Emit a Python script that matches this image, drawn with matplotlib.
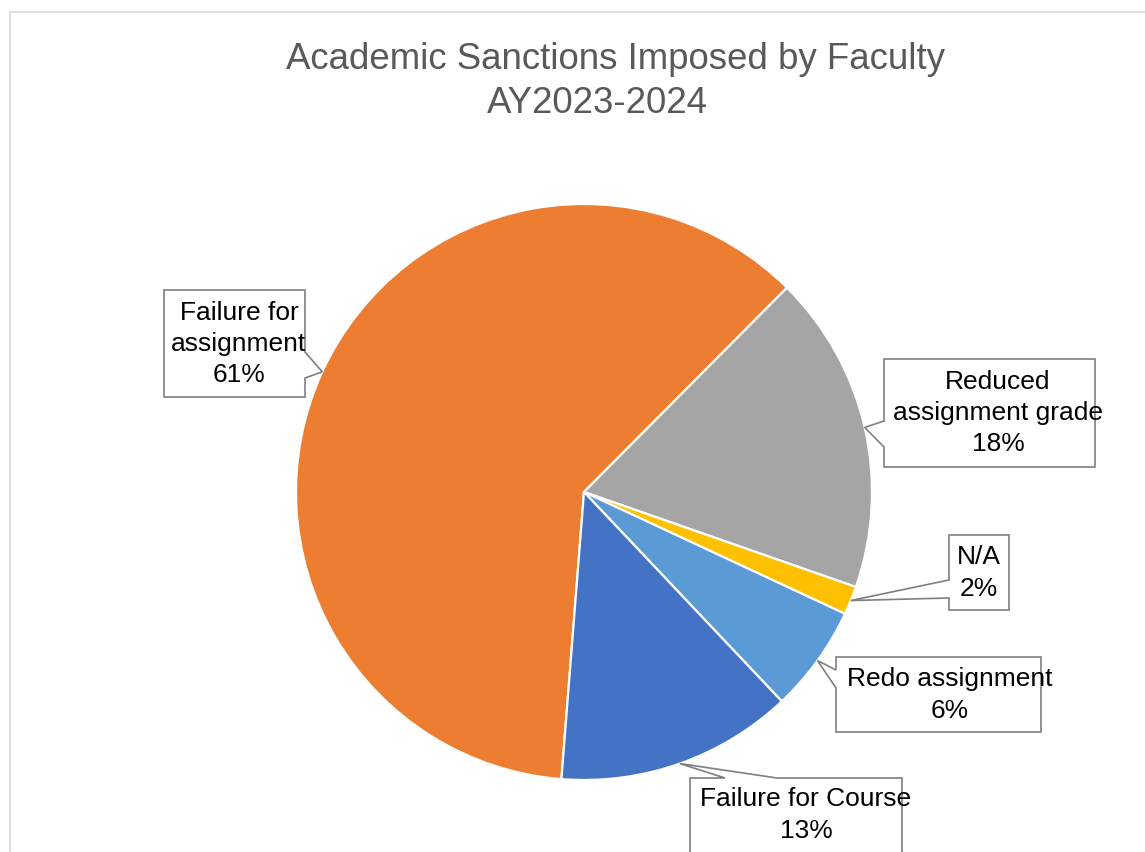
import numpy as np
import matplotlib
matplotlib.use("Agg")
import matplotlib.pyplot as plt
from matplotlib.patches import Polygon, Rectangle

# data (share of sanctions, percent)
labels = ["Failure for\nassignment", "Reduced\nassignment grade", "N/A",
          "Redo assignment", "Failure for Course"]
shares = [61.2, 17.9, 1.6, 6.0, 13.3]
colours = ["#ED7D31", "#A5A5A5", "#FFC000", "#5B9BD5", "#4472C4"]

W, H = 1145, 852

def fy(y):
    # pixel row (top origin) -> data y
    return H - y

# callout layout in pixel coords: box (x0, y0, x1, y1), pointer side, base span, text centre
callouts = [
    ((164, 290, 305, 397), "right", (352, 378), (239, 344)),
    ((884, 359, 1095, 467), "left", (421, 447), (998, 413)),
    ((949, 535, 1009, 610), "left", (580, 598), (979, 573)),
    ((836, 657, 1041, 732), "left", (670, 688), (950, 695)),
    ((690, 778, 902, 880), "top", (725, 777), (806, 815)),
]

plt.rcParams['font.family'] = ['Liberation Sans', 'DejaVu Sans']

fig = plt.figure(figsize=(W / 100, H / 100), dpi=100)
ax = fig.add_axes([0, 0, 1, 1])

centre = (584, fy(492))
radius = 288

wedges, _ = ax.pie(shares, colors=colours, startangle=-94.5, counterclock=False,
                   center=centre, radius=radius,
                   wedgeprops=dict(edgecolor="white", linewidth=1.6))

ax.set_xlim(0, W)
ax.set_ylim(0, H)
ax.set_aspect("equal")
ax.axis("off")

# chart border
ax.add_patch(Rectangle((10, fy(900)), 1200, 900 - 12, fill=False,
                       edgecolor="#D9D9D9", linewidth=1.2, zorder=0))

total = sum(shares)
for wedge, lab, val, (box, side, base, tpos) in zip(wedges, labels, shares, callouts):
    mid = np.deg2rad((wedge.theta1 + wedge.theta2) / 2)
    tip = (centre[0] + radius * np.cos(mid), centre[1] + radius * np.sin(mid))
    x0, y0, x1, y1 = box
    b1, b2 = base
    if side == "right":
        pts = [(x0, y0), (x1, y0), (x1, b1), None, (x1, b2), (x1, y1), (x0, y1)]
    elif side == "left":
        pts = [(x0, y0), (x1, y0), (x1, y1), (x0, y1), (x0, b2), None, (x0, b1)]
    else:
        pts = [(x0, y0), (b1, y0), None, (b2, y0), (x1, y0), (x1, y1), (x0, y1)]
    verts = [tip if p is None else (p[0], fy(p[1])) for p in pts]
    ax.add_patch(Polygon(verts, closed=True, facecolor="white",
                         edgecolor="#7F7F7F", linewidth=1.2, zorder=3))
    pct = round(val / total * 100)
    ax.text(tpos[0], fy(tpos[1]), f"{lab}\n{pct}%", ha="center", va="center",
            multialignment="center", fontsize=19, color="black",
            linespacing=1.38, zorder=4)

# title
ax.text(615, fy(69), "Academic Sanctions Imposed by Faculty", ha="center",
        va="baseline", fontsize=26.4, color="#595959")
ax.text(597, fy(113), "AY2023-2024", ha="center", va="baseline",
        fontsize=26.4, color="#595959")

fig.savefig("out.png", dpi=100)
